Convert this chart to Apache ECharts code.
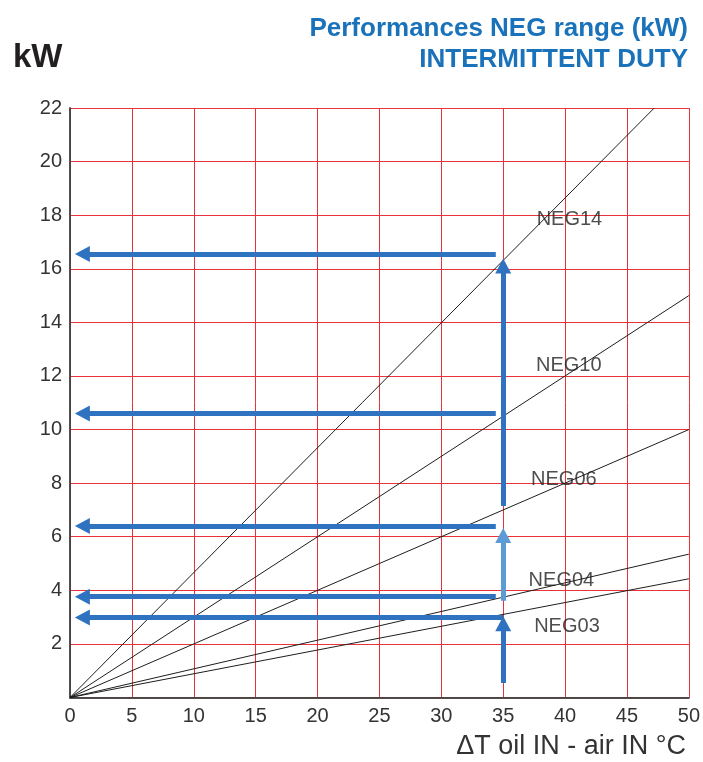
<!DOCTYPE html>
<html>
<head>
<meta charset="utf-8">
<title>NEG range</title>
<script src="https://cdn.jsdelivr.net/npm/echarts@6/dist/echarts.min.js"></script>
<style>
  html, body { margin: 0; padding: 0; background: #fff; }
  #chart { width: 703px; height: 762px; }
</style>
</head>
<body>
<div id="chart"></div>
<script>
// axis ranges
var xMax = 50, xStep = 5;
var yMax = 22, yStep = 2;

// straight lines from origin, end points
var curveNames = ['NEG14', 'NEG10', 'NEG06', 'NEG04', 'NEG03'];
var curveEnds = [[47.2, 22], [50, 15], [50, 10], [50, 5.35], [50, 4.43]];
var labelSpots = [[40.35, 17.85], [40.3, 12.4], [39.9, 8.13], [39.7, 4.38], [40.15, 2.65]];

// horizontal arrows (y level, shaft from x -> shaft end x)
var hArrowY = [16.55, 10.6, 6.4, 3.76, 2.99];
var hArrowFrom = [34.4, 34.4, 34.4, 34.4, 35];
var hArrowTo = 1.0;

// vertical arrows at dT = 35
var vArrowX = 35;
var vArrowFrom = [0.54, 3.61, 7.15];
var vArrowTo = [2.75, 6.05, 16.1];
var vArrowLight = [false, true, false];

var font = 'Liberation Sans, Arial, sans-serif';
var darkBlue = '#2f72bf';
var lightBlue = '#5b9bd6';

var myChart = echarts.init(document.getElementById('chart'));

var darkLines = [], lightLines = [];
hArrowY.forEach(function (y, i) {
    darkLines.push([{ coord: [hArrowFrom[i], y] }, { coord: [hArrowTo, y] }]);
});
vArrowFrom.forEach(function (y0, i) {
    var seg = [{ coord: [vArrowX, y0] }, { coord: [vArrowX, vArrowTo[i]] }];
    (vArrowLight[i] ? lightLines : darkLines).push(seg);
});

function arrowSeries(name, lines, color) {
    return {
        name: name,
        type: 'line',
        data: [],
        silent: true,
        markLine: {
            silent: true,
            symbol: ['none', 'triangle'],
            symbolSize: [16, 15],
            label: { show: false },
            lineStyle: { color: color, width: 5, type: 'solid' },
            emphasis: { disabled: true },
            data: lines
        }
    };
}

var series = [];
curveNames.forEach(function (n, i) {
    series.push({
        name: n,
        type: 'line',
        data: [[0, 0], curveEnds[i]],
        symbol: 'none',
        silent: true,
        lineStyle: { color: '#1e1e1e', width: 1 }
    });
});
series.push({
    name: 'labels',
    type: 'scatter',
    symbolSize: 1,
    itemStyle: { color: 'rgba(0,0,0,0)' },
    silent: true,
    label: {
        show: true,
        position: 'inside',
        formatter: '{b}',
        color: '#222',
        fontFamily: font,
        fontSize: 20
    },
    data: labelSpots.map(function (p, i) { return { name: curveNames[i], value: p }; })
});
series.push(arrowSeries('arrowsDark', darkLines, darkBlue));
series.push(arrowSeries('arrowsLight', lightLines, lightBlue));

var titleStyle = { color: '#1a73ba', fontFamily: font, fontWeight: 'bold', fontSize: 26 };

var option = {
    animation: false,
    title: [
        { text: 'Performances NEG range (kW)', right: 10, top: 11, textStyle: titleStyle },
        { text: 'INTERMITTENT DUTY', right: 10, top: 42, textStyle: titleStyle },
        {
            text: 'kW',
            left: 8,
            top: 36,
            textStyle: { color: '#231f20', fontFamily: font, fontWeight: 'bold', fontSize: 33 }
        },
        {
            text: 'ΔT oil IN - air IN °C',
            right: 12,
            bottom: -3,
            textStyle: { color: '#333', fontFamily: font, fontWeight: 'normal', fontSize: 27 }
        }
    ],
    grid: { left: 70, right: 14, top: 108, bottom: 64.5 },
    xAxis: [
        {
            type: 'value', min: 0, max: xMax, interval: xStep,
            axisLine: { lineStyle: { color: '#444', width: 1.5 } },
            axisTick: { show: false },
            axisLabel: { color: '#333', fontFamily: font, fontSize: 20, margin: 9 },
            splitLine: { lineStyle: { color: '#e8333a', width: 1 } }
        },
        {
            type: 'value', position: 'top', min: 0, max: xMax, interval: xStep,
            axisLine: { show: true, lineStyle: { color: '#444', width: 1.5 } },
            axisTick: { show: false }, axisLabel: { show: false }, splitLine: { show: false }
        }
    ],
    yAxis: [
        {
            type: 'value', min: 0, max: yMax, interval: yStep,
            axisLine: { show: true, lineStyle: { color: '#444', width: 1.5 } },
            axisTick: { show: false },
            axisLabel: {
                color: '#333', fontFamily: font, fontSize: 20, margin: 8,
                formatter: function (v) { return v === 0 ? '' : v; }
            },
            splitLine: { lineStyle: { color: '#e8333a', width: 1 } }
        },
        {
            type: 'value', position: 'right', min: 0, max: yMax, interval: yStep,
            axisLine: { show: true, lineStyle: { color: '#444', width: 1.5 } },
            axisTick: { show: false }, axisLabel: { show: false }, splitLine: { show: false }
        }
    ],
    series: series
};
myChart.setOption(option);
</script>
</body>
</html>
